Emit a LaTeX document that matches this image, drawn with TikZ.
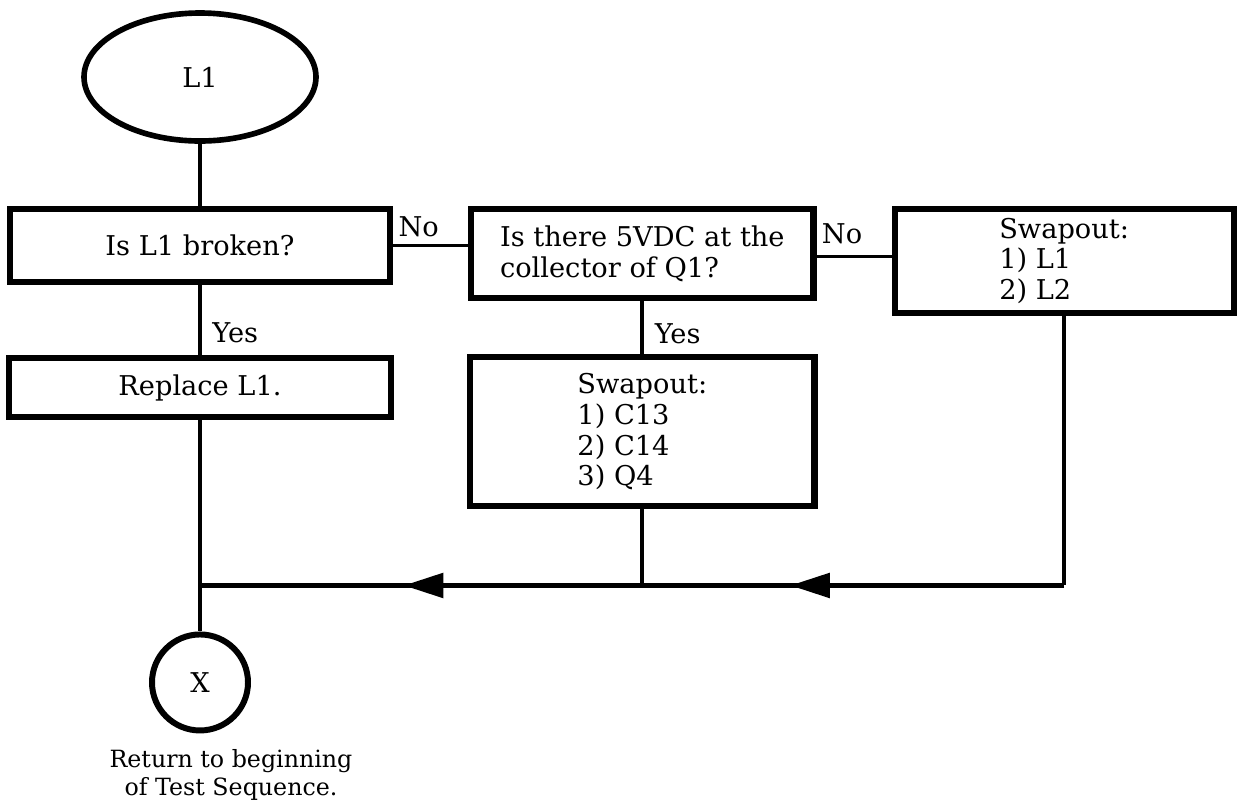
\documentclass[tikz,border=0pt]{standalone}
\usepackage{fontspec}
\setmainfont{DejaVu Serif}
\usetikzlibrary{arrows.meta,positioning,shapes.geometric,decorations.markings}
\newcommand{\chartfont}{\fontsize{15.5}{17.5}\selectfont}
\newcommand{\notefont}{\fontsize{13.5}{16}\selectfont}
\tikzset{
    chartdraw/.style={draw, line width=3.6pt, align=center, font=\chartfont, inner sep=0pt},
    testbox/.style={chartdraw, minimum width=7.6cm, minimum height=1.46cm},
    actionbox/.style={chartdraw, minimum width=7.64cm, minimum height=1.18cm},
    listbox/.style={chartdraw, align=left, minimum width=6.84cm},
    termnode/.style={chartdraw, ellipse, line width=3.2pt, minimum width=4.64cm, minimum height=2.56cm},
    exitnode/.style={chartdraw, circle, line width=3.4pt, minimum size=1.92cm},
    flowline/.style={line width=2.2pt},
    returnline/.style={line width=3.2pt},
    branchlabel/.style={font=\chartfont, inner sep=2pt},
    midarrow/.style={postaction={decorate}, decoration={markings,
        mark=at position #1 with {\arrow{Triangle[length=8mm, width=4.8mm]}}}}
}
\begin{document}
\begin{tikzpicture}
    \useasboundingbox (0,0) rectangle (24.8,-16.18);
    \node[termnode] (start) at (4.0,-1.54) {L1};
    \node[testbox, below=1.24cm of start] (broken) {Is L1 broken?};
    \node[actionbox, below=1.4cm of broken] (repl) {Replace L1.};
    \node[listbox, minimum height=1.78cm, right=1.5cm of broken.north east, anchor=north west] (volt) {Is there 5VDC at the\\collector of Q1?};
    \node[listbox, minimum width=6.88cm, minimum height=2.98cm, below=1.06cm of volt] (swapq) {Swapout:\\1) C13\\2) C14\\3) Q4};
    \node[listbox, minimum width=6.78cm, minimum height=2.08cm, right=1.5cm of volt.north east, anchor=north west] (swapl) {Swapout:\\1) L1\\2) L2};
    \node[exitnode, below=4.22cm of repl] (retx) {X};
    \node[font=\notefont, align=center, inner sep=0pt, below=0.32cm of retx, xshift=0.62cm] (retnote) {Return to beginning\\of Test Sequence.};

    % junctions on the return line
    \coordinate (jl) at ([yshift=-3.3cm]repl.south);
    \coordinate (jm) at (swapq.south |- jl);
    \coordinate (jr) at (swapl.south |- jl);

    \draw[flowline] (start) -- (broken);
    \draw[flowline] (broken) -- node[branchlabel, pos=0.68, right=4pt] {Yes} (repl);
    \draw[flowline] (broken.east) -- node[branchlabel, pos=0, anchor=south west, yshift=2pt] {No} (broken.east -| volt.west);
    \draw[flowline] ([yshift=-0.06cm]volt.east) -- node[branchlabel, pos=0, anchor=south west, yshift=4pt] {No} ([yshift=-0.06cm]volt.east -| swapl.west);
    \draw[flowline] (volt) -- node[branchlabel, pos=0.62, right=4pt] {Yes} (swapq);

    \draw[flowline] (swapl.south) -- (jr);
    \draw[flowline] (swapq.south) -- (jm);
    \draw[returnline, midarrow=0.65] (jr) -- (jm);
    \draw[returnline, midarrow=0.54] (jm) -- (jl);
    \draw[flowline] (repl.south) -- (jl) -- (retx.north);
\end{tikzpicture}
\end{document}
